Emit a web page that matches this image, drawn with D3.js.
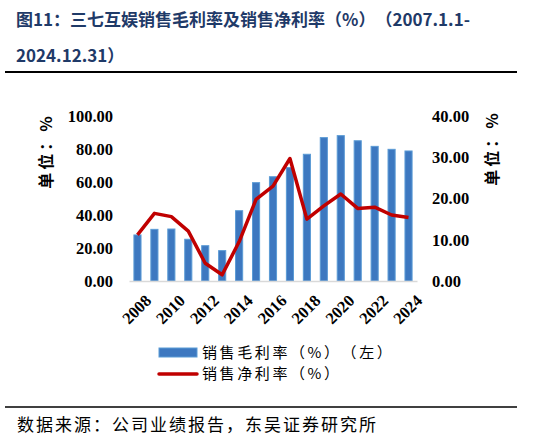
<!DOCTYPE html>
<html><head><meta charset="utf-8">
<script src="https://cdn.jsdelivr.net/npm/d3@7"></script>
<style>body{margin:0;background:#fff}svg{display:block}text{text-spacing-trim:space-all}</style>
</head><body>
<svg id="c" width="535" height="440"></svg>
<script>
const years = [2008,2009,2010,2011,2012,2013,2014,2015,2016,2017,2018,2019,2020,2021,2022,2023,2024];
const grossMargin = [27.9,31.3,31.5,25.3,21.4,18.4,42.6,59.6,63.2,68.7,76.8,86.9,88.1,85.0,81.6,79.8,78.8];
const netMargin = [11.2,16.4,15.6,12.1,4.3,1.5,9.5,19.8,23.0,29.7,15.0,18.2,21.1,17.6,17.9,16.0,15.4];
const leftTicks = [0,20,40,60,80,100];
const rightTicks = [0,10,20,30,40];
const xTickYears = [2008,2010,2012,2014,2016,2018,2020,2022,2024];

const svg = d3.select('#c');
const numFont = '"Liberation Serif","Times New Roman",serif';
const cjk = '"Noto Sans CJK SC",sans-serif';

// title
const title = svg.append('g').attr('fill','#1f3a68').attr('font-weight','bold');
title.append('text').attr('x',16).attr('y',26).attr('font-size',17).attr('font-family',cjk)
  .text('图11：三七互娱销售毛利率及销售净利率（%）（2007.1.1-');
title.append('text').attr('x',16).attr('y',62).attr('font-size',17).attr('font-family',cjk)
  .text('2024.12.31）');
svg.append('line').attr('x1',5).attr('x2',517).attr('y1',72).attr('y2',72).attr('stroke','#000').attr('stroke-width',2);

const x0 = 129, x1 = 417, yTop = 116, yBot = 281;
const x = d3.scaleBand().domain(years).range([x0,x1]).paddingInner(0.58).paddingOuter(0.29);
const yL = d3.scaleLinear().domain([0,100]).range([yBot,yTop]);
const yR = d3.scaleLinear().domain([0,40]).range([yBot,yTop]);

// bars
svg.append('g').selectAll('rect').data(years).join('rect')
  .attr('x',d=>x(d)).attr('width',x.bandwidth())
  .attr('y',(d,i)=>yL(grossMargin[i])).attr('height',(d,i)=>yBot-yL(grossMargin[i]))
  .attr('fill','#3d78c0').attr('stroke','#5b9bd5').attr('stroke-width',1);

// baseline axis
const xAxis = svg.append('g').attr('transform',`translate(0,${yBot})`)
  .call(d3.axisBottom(x).tickValues(xTickYears).tickSize(0).tickFormat(''));
xAxis.select('.domain').attr('stroke','#d9d9d9').attr('stroke-width',1.5);

// x labels
svg.append('g').selectAll('text').data(xTickYears).join('text')
  .attr('transform',d=>`translate(${x(d)+x.bandwidth()/2+6},${yBot+12}) rotate(-45)`)
  .attr('text-anchor','end').attr('dy','0.75em')
  .attr('font-family',numFont).attr('font-weight','bold').attr('font-size',16.5).attr('fill','#000')
  .text(d=>d);

// line
const line = d3.line().x((d,i)=>x(years[i])+x.bandwidth()/2).y(d=>yR(d));
svg.append('path').datum(netMargin).attr('d',line).attr('fill','none')
  .attr('stroke','#c00000').attr('stroke-width',3.5).attr('stroke-linejoin','round');

// left axis
const la = svg.append('g').attr('transform','translate(113,0)')
  .call(d3.axisLeft(yL).tickValues(leftTicks).tickSize(0).tickPadding(0).tickFormat(d3.format('.2f')));
la.select('.domain').remove();
la.selectAll('text').attr('font-family',numFont).attr('font-weight','bold').attr('font-size',16.5).attr('fill','#000');

const ra = svg.append('g').attr('transform','translate(432,0)')
  .call(d3.axisRight(yR).tickValues(rightTicks).tickSize(0).tickPadding(0).tickFormat(d3.format('.2f')));
ra.select('.domain').remove();
ra.selectAll('text').attr('font-family',numFont).attr('font-weight','bold').attr('font-size',16.5).attr('fill','#000');

// unit labels
[[46,151],[492,148]].forEach(([cx,cy])=>{
  svg.append('text').attr('transform',`translate(${cx},${cy}) rotate(-90)`)
    .attr('text-anchor','middle').attr('dy','0.35em')
    .attr('font-family',cjk).attr('font-size',16).attr('font-weight','bold').attr('letter-spacing',3).attr('fill','#000')
    .text('单位：%');
});

// legend
const lg = svg.append('g');
lg.append('rect').attr('x',159).attr('y',348).attr('width',38).attr('height',9)
  .attr('fill','#3d78c0').attr('stroke','#5b9bd5');
lg.append('text').attr('x',202).attr('y',353).attr('dy','0.35em').attr('font-family',cjk).attr('font-size',15).attr('letter-spacing',2.6).attr('fill','#000')
  .text('销售毛利率（%）（左）');
lg.append('line').attr('x1',159).attr('x2',197).attr('y1',374).attr('y2',374).attr('stroke','#c00000').attr('stroke-width',3.5).attr('stroke-linecap','round');
lg.append('text').attr('x',202).attr('y',374).attr('dy','0.35em').attr('font-family',cjk).attr('font-size',15).attr('letter-spacing',2.6).attr('fill','#000')
  .text('销售净利率（%）');

// footer
svg.append('line').attr('x1',5).attr('x2',517).attr('y1',407).attr('y2',407).attr('stroke','#000').attr('stroke-width',1.5);
svg.append('text').attr('x',17).attr('y',431).attr('font-family',cjk).attr('font-size',17).attr('letter-spacing',2).attr('fill','#000')
  .text('数据来源：公司业绩报告，东吴证券研究所');
</script>
</body></html>
